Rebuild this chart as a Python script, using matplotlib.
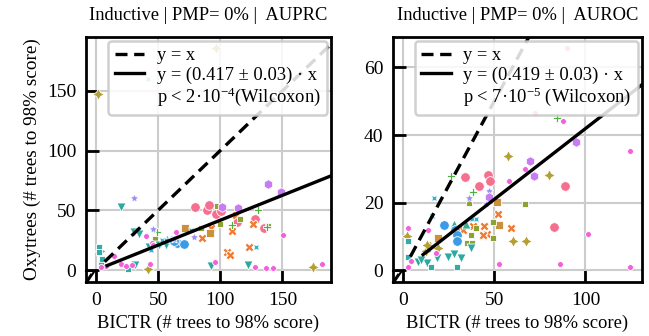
import numpy as np
import matplotlib
matplotlib.use("Agg")
import matplotlib.pyplot as plt

plt.rcParams['font.family'] = ['Liberation Serif', 'DejaVu Serif']
plt.rcParams['mathtext.fontset'] = 'custom'
plt.rcParams['mathtext.rm'] = 'Liberation Serif'
plt.rcParams['mathtext.it'] = 'Liberation Serif:italic'

# ---- data: (BICTR, Oxytrees) per dataset ----
# AUPRC panel
prc_circle = [(80, 52.5), (89, 50), (90.6, 54.5), (96.5, 46.6), (100.8, 49.4),
              (113.4, 40.5), (128, 42.5), (135, 35)]
prc_x = [(112.6, 46), (92.7, 35.5), (126.4, 38.5), (109, 32.5), (85, 27),
         (67, 21.5), (105.4, 15.3), (108, 12.5), (122.8, 19)]
prc_square = [(92, 30.7), (71.8, 35)]
prc_plus = [(96.8, 186), (1.9, 147), (174.5, 2.2), (42, 0.8), (3, 16)]
prc_diamond = [(97.3, 54), (116, 43), (100, 38.4), (84.7, 35.5), (47.6, 25.7), (138.4, 37)]
prc_pfill = [(130.4, 50), (109.4, 37.7), (137.6, 36), (49, 31.5)]
prc_tri_up = [(57, 26), (60, 25)]
prc_tri_down = [(20, 53), (30.4, 32), (35, 30), (51, 21), (56, 21), (31.7, 4.2),
                (92.7, 3.4), (122.3, 4.2), (43, 19)]
prc_tsquare = [(2.2, 19.5), (2.2, 15.3), (4, 6.7), (26, 1), (5, 9)]
prc_xstar = [(42, 160), (53, 25), (56, 25.5), (76.6, 33.5), (44.4, 16.8), (129, 19.5), (62, 27)]
prc_blue = [(65, 23), (70.7, 21.8), (63, 24.5)]
prc_star = [(30.9, 60.6), (45.7, 34), (62.4, 25.7), (78.8, 27.4)]
prc_hexagon = [(101, 52.5), (114, 51.6), (138.4, 72), (148.4, 65)]
prc_dot = [(40.6, 28.5), (64, 32), (45, 23), (14.8, 12), (8, 3.4), (20, 4.7), (24, 3.4),
           (28.8, 4.2), (43.8, 5), (4, 2.2), (95.4, 7), (127.7, 2.8), (137, 2), (142, 2),
           (182, 5), (150.5, 29.3), (46, 21)]

# AUROC panel
roc_circle = [(34, 27.6), (46.5, 28.3), (41.8, 25), (47.6, 26.3), (89, 25), (83, 12.8)]
roc_x = [(52.2, 16.7), (59.3, 12.6), (44.5, 13), (46, 10.8), (43.8, 10.1), (32.6, 11.8),
         (38.5, 13), (44, 10.4)]
roc_square = [(51.5, 20.3), (52.7, 13.5), (18.9, 9.4)]
roc_plus = [(57.3, 33.7), (80.2, 28.1), (60.3, 8.6), (67.6, 8.6), (14.8, 7.1), (12.5, 5.7),
            (19.4, 6.7), (13.4, 7.4), (2.4, 10), (9, 3)]
roc_diamond = [(36.4, 19.9), (67, 19.5), (49.3, 14.3), (49.3, 9.4), (40, 12.5), (37.5, 10.4),
               (35, 7.9), (38, 8.1)]
roc_pfill = [(84.4, 44.9), (26.2, 27.9), (38.3, 23)]
roc_tri_up = [(28.2, 13.6), (34.4, 13.6)]
roc_tri_down = [(37.4, 6.7), (24.9, 4), (27.7, 4.9), (31.9, 3.5), (18.5, 3.5), (13, 2),
                (8, 2.5), (10, 3)]
roc_tsquare = [(29.5, 1), (15.2, 1), (2.6, 8.7), (2.6, 4)]
roc_xstar = [(17, 21.5), (15.8, 16), (37.7, 15), (40, 15.1)]
roc_blue = [(22.2, 13.3), (28.6, 12), (29.5, 10.4), (29.5, 8.6)]
roc_star = [(36, 21.5), (47.3, 23.4), (45.6, 19.7)]
roc_hexagon = [(94.7, 37.8), (69.6, 32.3), (71.6, 27.9), (47.4, 21.7)]
roc_dot = [(90, 65.8), (72.3, 46.4), (87.5, 44.2), (124.4, 35.3), (67, 29.9), (57.9, 26.4),
           (101.5, 10.8), (52.4, 1.8), (86, 1.8), (124.4, 1), (13.6, 12), (2.6, 12.5),
           (18.1, 5.2), (2.6, 1), (4.4, 2.7)]

prc_slope, prc_err, prc_p = 0.417, 0.03, "2\u00b710$^{-4}$(Wilcoxon)"
roc_slope, roc_err, roc_p = 0.419, 0.03, "7\u00b710$^{-5}$ (Wilcoxon)"

# marker / size / colour per dataset
styles = [("o", 48), ("X", 42), ("s", 26), ((4, 1, 0), 70), ((4, 0, 45), 34), ("P", 40),
          ("^", 42), ("v", 42), ("s", 20), ((4, 1, 45), 34), ("o", 48), ((5, 1, 0), 40),
          ((6, 0, 0), 48), ("o", 18)]
colors = ["#f5708e", "#f07a31", "#c9913a", "#b5a033", "#8ea232", "#4fb040", "#35ae8a",
          "#2ea9a2", "#33aba5", "#38b0cc", "#3b9be6", "#9a92f3", "#c77cf3", "#f261db"]

prc_sets = [prc_circle, prc_x, prc_square, prc_plus, prc_diamond, prc_pfill, prc_tri_up,
            prc_tri_down, prc_tsquare, prc_xstar, prc_blue, prc_star, prc_hexagon, prc_dot]
roc_sets = [roc_circle, roc_x, roc_square, roc_plus, roc_diamond, roc_pfill, roc_tri_up,
            roc_tri_down, roc_tsquare, roc_xstar, roc_blue, roc_star, roc_hexagon, roc_dot]

fig = plt.figure(figsize=(6.49, 3.36), dpi=100)
ax1 = fig.add_axes([86 / 649, 54 / 336, 245 / 649, 245 / 336])
ax2 = fig.add_axes([393 / 649, 54 / 336, 249 / 649, 245 / 336])


def panel(ax, sets, slope, err, ptxt, metric, xlim, ylim, xt, yt, x0d, x0s):
    for pts, (m, s), c in zip(sets, styles, colors):
        arr = np.array(pts)
        ax.scatter(arr[:, 0], arr[:, 1], marker=m, s=s, color=c,
                   edgecolor="white", linewidth=0.6, zorder=3)
    xs = np.array([x0d, 1000])
    ax.plot(xs, xs, color="k", ls=(0, (3.6, 2.0)), lw=2.4, label="y = x", zorder=4)
    xs = np.array([x0s, 1000])
    ax.plot(xs, slope * xs, "k-", lw=2.4,
            label=f"y = ({slope:.3f} \u00b1 {err:.2f}) \u00b7 x", zorder=4)
    ax.plot([], [], " ", label="p < " + ptxt)
    ax.set_xlim(*xlim)
    ax.set_ylim(*ylim)
    ax.set_xticks(xt)
    ax.set_yticks(yt)
    ax.grid(color="#cccccc", lw=1.5, zorder=0)
    ax.set_axisbelow(True)
    for sp in ax.spines.values():
        sp.set_linewidth(2)
    ax.tick_params(direction="in", length=9, width=2, labelsize=14, pad=7)
    ax.set_title(f"Inductive | PMP= 0% |  {metric}", fontsize=13.3, pad=12)
    ax.set_xlabel("BICTR (# trees to 98% score)", fontsize=13.3)
    leg = ax.legend(loc="upper right", fontsize=13.3, handlelength=1.6,
                    handletextpad=0.7, labelspacing=0.12, borderaxespad=0.2,
                    framealpha=0.85, edgecolor="#c8c8c8", borderpad=0.35)
    leg.get_frame().set_linewidth(1.8)
    leg.set_zorder(5)
    # little corner mark at the origin
    tr = ax.transAxes
    ax.plot([0, 0.035], [0.045, 0.045], color="k", lw=1.5, transform=tr, clip_on=False, zorder=6)
    ax.plot([0.005, 0.035], [0.0, 0.045], color="k", lw=1.5, transform=tr, clip_on=False, zorder=6)
    ax.plot([0.0, 0.02], [0.0, 0.03], color="k", lw=1.5, transform=tr, clip_on=False, zorder=6)


panel(ax1, prc_sets, prc_slope, prc_err, prc_p, "AUPRC", (-8, 189), (-10, 195),
      [0, 50, 100, 150], [0, 50, 100, 150], 7, 9)
panel(ax2, roc_sets, roc_slope, roc_err, roc_p, "AUROC", (-5.5, 131), (-3.5, 69),
      [0, 50, 100], [0, 20, 40, 60], 4, 11)
ax1.set_ylabel("Oxytrees (# trees to 98% score)", fontsize=13.8)

fig.savefig("out.png", dpi=100)
